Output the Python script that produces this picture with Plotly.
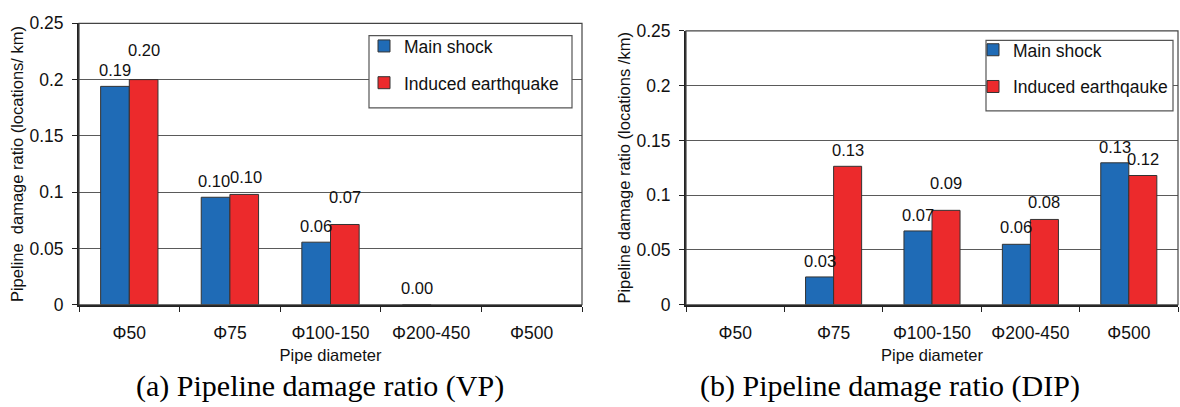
import plotly.graph_objects as go

# ---------------- data ----------------
categories = ["Φ50", "Φ75", "Φ100-150", "Φ200-450", "Φ500"]

vp_main = [0.194, 0.0955, 0.0556, 0.0, None]
vp_induced = [0.200, 0.098, 0.0713, None, None]
vp_main_labels = ["0.19", "0.10", "0.06", "0.00", None]
vp_induced_labels = ["0.20", "0.10", "0.07", None, None]

dip_main = [None, 0.0254, 0.0674, 0.0552, 0.1296]
dip_induced = [None, 0.1264, 0.0862, 0.0779, 0.118]
dip_main_labels = [None, "0.03", "0.07", "0.06", "0.13"]
dip_induced_labels = [None, "0.13", "0.09", "0.08", "0.12"]

series_names_vp = ["Main shock", "Induced earthquake"]
series_names_dip = ["Main shock", "Induced earthqauke"]

y_title_vp = "Pipeline\u00a0 damage ratio (locations/ km)"
y_title_dip = "Pipeline damage ratio (locations /km)"
x_title = "Pipe diameter"
caption_vp = "(a) Pipeline damage ratio (VP)"
caption_dip = "(b) Pipeline damage ratio (DIP)"

# label offsets (px, relative to bar top centre) - layout only
vp_main_off = [16, 16, 16, 17, None]
vp_induced_off = [30, 17, 27, None, None]
dip_main_off = [None, 16, 16, 17, 16]
dip_induced_off = [None, 16, 27, 17, 17]
vp_main_dx = [0, -2, 0, 0, 0]
vp_induced_dx = [0, 2, 0, 0, 0]
dip_main_dx = [0, 0, 0, 0, 0]
dip_induced_dx = [0, 0, 0, 0, 0]

# ---------------- styling ----------------
W, H = 1180, 407
BLUE = "#1f6bb6"
RED = "#ec2a2c"
FONT = "Liberation Sans, Arial, sans-serif"
SERIF = "Liberation Serif, Times New Roman, serif"
BARGAP = 0.43
TICK_SIZE = 17.5
LABEL_SIZE = 16.5

# pixel layout
L1, R1, T1, B1 = 79, 582, 14, 310
L2, R2, T2, B2 = 686, 1178, 22, 310


def xd(a, b):
    return [a / W, b / W]


def yd(t, b):
    return [(H - b) / H, (H - t) / H]


fig = go.Figure()

for (main, ind, names, xa, ya, leg) in [
    (vp_main, vp_induced, series_names_vp, "x", "y", "legend"),
    (dip_main, dip_induced, series_names_dip, "x2", "y2", "legend2"),
]:
    fig.add_trace(go.Bar(x=categories, y=main, name=names[0], marker_color=BLUE,
                         marker_line=dict(color="#333333", width=1),
                         xaxis=xa, yaxis=ya, legend=leg, legendgroup=leg + "a"))
    fig.add_trace(go.Bar(x=categories, y=ind, name=names[1], marker_color=RED,
                         marker_line=dict(color="#333333", width=1),
                         xaxis=xa, yaxis=ya, legend=leg, legendgroup=leg + "b"))

annotations = []
for (vals, labs, offs, dxs, side, xa, ya, l, r) in [
    (vp_main, vp_main_labels, vp_main_off, vp_main_dx, -1, "x", "y", L1, R1),
    (vp_induced, vp_induced_labels, vp_induced_off, vp_induced_dx, 1, "x", "y", L1, R1),
    (dip_main, dip_main_labels, dip_main_off, dip_main_dx, -1, "x2", "y2", L2, R2),
    (dip_induced, dip_induced_labels, dip_induced_off, dip_induced_dx, 1, "x2", "y2", L2, R2),
]:
    cat_px = (r - l) / len(categories)
    bar_px = cat_px * (1 - BARGAP) / 2
    for c, v, t, o, dx in zip(categories, vals, labs, offs, dxs):
        if v is None or t is None:
            continue
        annotations.append(dict(x=c, y=v, xref=xa, yref=ya, text=t, showarrow=False,
                                xshift=side * bar_px / 2 + dx, yshift=o, yanchor="middle",
                                font=dict(family=FONT, size=LABEL_SIZE, color="#111")))

annotations.append(dict(x=320 / W, y=(H - 395) / H, xref="paper", yref="paper",
                        text=caption_vp, showarrow=False, xanchor="center", yanchor="middle",
                        font=dict(family=SERIF, size=30, color="#000")))
annotations.append(dict(x=890 / W, y=(H - 395) / H, xref="paper", yref="paper",
                        text=caption_dip, showarrow=False, xanchor="center", yanchor="middle",
                        font=dict(family=SERIF, size=30, color="#000")))

shapes = []
for xa, ya in [("x", "y"), ("x2", "y2")]:
    shapes.append(dict(type="rect", xref=xa + " domain", yref=ya + " domain",
                       x0=0, x1=1, y0=0, y1=1, line=dict(color="#444", width=1.2), layer="above"))
# legend boxes
for (x0, x1, y0, y1) in [(369, 572, 27, 103), (986, 1173, 32, 106)]:
    shapes.append(dict(type="rect", xref="paper", yref="paper",
                       x0=x0 / W, x1=x1 / W, y0=(H - y1) / H, y1=(H - y0) / H,
                       line=dict(color="#555", width=1.2), fillcolor="white", layer="above"))

axis_common = dict(showline=True, linecolor="#222", linewidth=2,
                   ticks="outside", ticklen=5, tickcolor="#222", tickwidth=1,
                   tickfont=dict(family=FONT, size=TICK_SIZE, color="#111"))

fig.update_layout(
    width=W, height=H, margin=dict(l=0, r=0, t=0, b=0),
    paper_bgcolor="white", plot_bgcolor="white",
    barmode="group", bargap=BARGAP, bargroupgap=0,
    showlegend=True,
    annotations=annotations, shapes=shapes,
    xaxis=dict(domain=xd(L1, R1), anchor="y", tickson="boundaries",
               ticklabelstandoff=11,
               title=dict(text=x_title, font=dict(family=FONT, size=16.5, color="#111"), standoff=8),
               **axis_common),
    yaxis=dict(domain=yd(T1, B1), anchor="x", range=[0, 0.25], dtick=0.05,
               showgrid=True, gridcolor="#5a5a5a", gridwidth=1, zeroline=False,
               ticklabelstandoff=5,
               title=dict(text=y_title_vp, font=dict(family=FONT, size=16.5, color="#111"), standoff=2),
               **axis_common),
    xaxis2=dict(domain=xd(L2, R2), anchor="y2", tickson="boundaries",
                ticklabelstandoff=11,
                title=dict(text=x_title, font=dict(family=FONT, size=16.5, color="#111"), standoff=8),
                **axis_common),
    yaxis2=dict(domain=yd(T2, B2), anchor="x2", range=[0, 0.25], dtick=0.05,
                showgrid=True, gridcolor="#5a5a5a", gridwidth=1, zeroline=False,
                ticklabelstandoff=5,
                title=dict(text=y_title_dip, font=dict(family=FONT, size=16.5, color="#111"), standoff=2),
                **axis_common),
    legend=dict(x=364 / W, y=(H - 19) / H, xanchor="left", yanchor="top",
                bgcolor="rgba(0,0,0,0)", borderwidth=0, traceorder="grouped",
                tracegroupgap=11, font=dict(family=FONT, size=17.5, color="#111")),
    legend2=dict(x=973 / W, y=(H - 23) / H, xanchor="left", yanchor="top",
                 bgcolor="rgba(0,0,0,0)", borderwidth=0, traceorder="grouped",
                 tracegroupgap=11, font=dict(family=FONT, size=17.5, color="#111")),
)

fig.write_html("out.html")
